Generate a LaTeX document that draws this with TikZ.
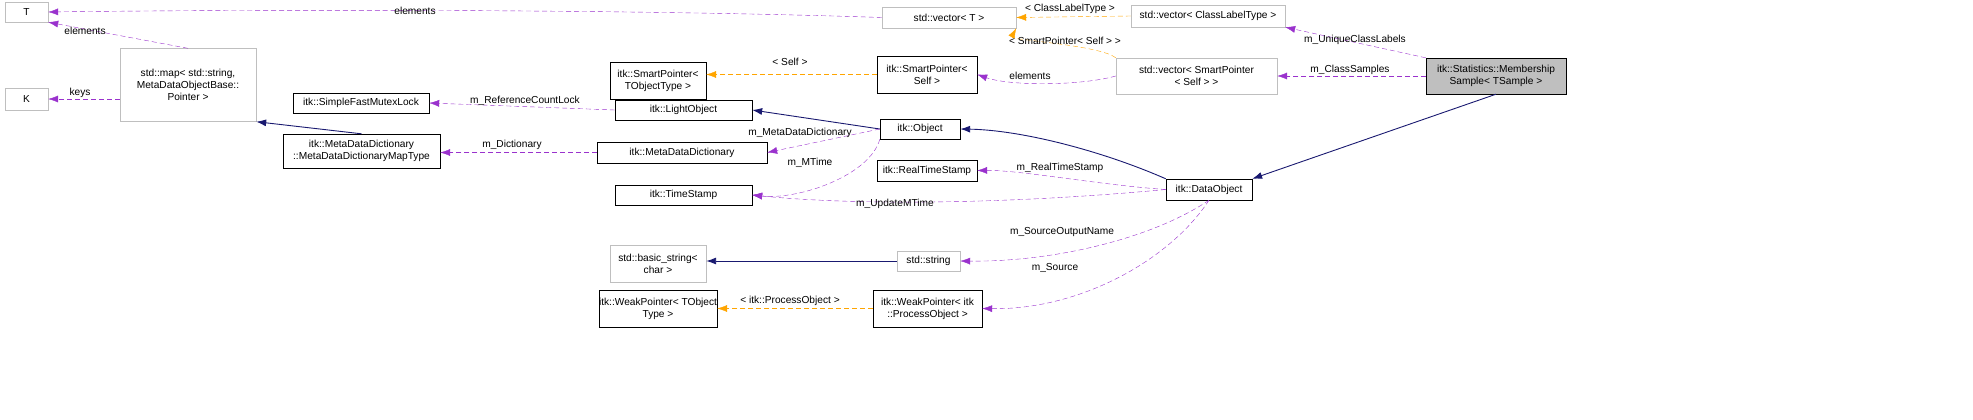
\documentclass[tikz,border=0pt]{standalone}
\usepackage{fontspec}
\setmainfont{Liberation Sans}
\usetikzlibrary{arrows.meta}
\definecolor{pu}{HTML}{9A32CD}
\definecolor{nv}{HTML}{191970}
\definecolor{og}{HTML}{FFA500}
\definecolor{gb}{HTML}{BFBFBF}
\tikzset{
 bx/.style={draw=black,fill=white,inner sep=0,align=center,font=\fontsize{10.2}{12}\selectfont},
 gx/.style={bx,draw=gb},
 lbl/.style={font=\fontsize{10.2}{11}\selectfont,inner sep=1pt},
 mem/.style={pu,dashed,dash pattern=on 5pt off 3pt,-{Latex[length=10pt,width=7pt]}},
 tpl/.style={og,dashed,dash pattern=on 5pt off 3pt,-{Latex[length=10pt,width=7pt]}},
 inh/.style={nv,line width=0.9pt,-{Latex[length=10pt,width=7pt]}},
}
\begin{document}
\begin{tikzpicture}[x=1bp,y=-1bp]
\useasboundingbox (0,0) rectangle (1973,419);
\newcommand\bnode[6]{\node[#1,minimum width={(#4)*1bp},minimum height={(#5)*1bp}] (#2) at (#3) {#6};}
\bnode{gx}{T}{26.5,12}{43}{20}{T}
\bnode{gx}{K}{26.5,99}{43}{22}{K}
\bnode{gx}{map}{188,85}{136}{73}{std::map\textless{} std::string,\\MetaDataObjectBase::\\Pointer \textgreater{}}
\bnode{bx}{mutex}{361,103}{136}{20}{itk::SimpleFastMutexLock}
\bnode{bx}{mapt}{361.5,151}{157}{34}{itk::MetaDataDictionary\\::MetaDataDictionaryMapType}
\bnode{bx}{spt}{658,80.5}{96}{37}{itk::SmartPointer\textless{}\\TObjectType \textgreater{}}
\bnode{bx}{light}{683.5,110}{137}{20}{itk::LightObject}
\bnode{bx}{mdd}{682,152.5}{170}{21}{itk::MetaDataDictionary}
\bnode{bx}{ts}{683.5,195}{137}{20}{itk::TimeStamp}
\bnode{gx}{vect}{949,17.5}{134}{21}{std::vector\textless{} T \textgreater{}}
\bnode{gx}{vecc}{1208,16}{154}{22}{std::vector\textless{} ClassLabelType \textgreater{}}
\bnode{bx}{sps}{927,74.5}{100}{37}{itk::SmartPointer\textless{}\\Self \textgreater{}}
\bnode{gx}{vecs}{1196.5,76}{161}{36}{std::vector\textless{} SmartPointer\\\textless{} Self \textgreater{} \textgreater{}}
\node[bx,fill=black!25,minimum width=140bp,minimum height=36bp] (ms) at (1496,76) {itk::Statistics::Membership\\Sample\textless{} TSample \textgreater{}};
\bnode{bx}{obj}{920,129}{80}{20}{itk::Object}
\bnode{bx}{rts}{927,170.5}{100}{21}{itk::RealTimeStamp}
\bnode{bx}{dobj}{1209,189.5}{86}{21}{itk::DataObject}
\bnode{gx}{bstr}{658,263.5}{96}{37}{std::basic\_string\textless{}\\char \textgreater{}}
\bnode{gx}{str}{928.5,261}{63}{20}{std::string}
\bnode{bx}{wpt}{658,308.5}{96}{37}{itk::WeakPointer\textless{} TObject\\Type \textgreater{}}
\bnode{bx}{wpi}{927.5,308.5}{109}{37}{itk::WeakPointer\textless{} itk\\::ProcessObject \textgreater{}}

\draw[mem] (vect.west) .. controls (600,8) and (200,10) .. (T.east);
\node[lbl] at (415,11) {elements};
\draw[mem] (map.north) -- (T.south east);
\node[lbl] at (85,31) {elements};
\draw[mem] (map.west|-K.east) -- (K.east);
\node[lbl] at (80,93) {keys};
\draw[inh] (mapt.north) -- (map.south east);
\draw[mem] (light.west) -- (mutex.east);
\node[lbl] at (525,101) {m\_ReferenceCountLock};
\draw[inh] (obj.west) -- (light.east);
\draw[mem] (obj.west) -- (mdd.east);
\node[lbl] at (800,133) {m\_MetaDataDictionary};
\draw[mem] (mdd.west) -- (mapt.east|-mdd.west);
\node[lbl] at (512,145) {m\_Dictionary};
\draw[mem] (obj.south west) .. controls (870,175) and (800,200) .. (ts.east);
\node[lbl] at (810,163) {m\_MTime};
\draw[mem] (dobj.west) .. controls (1000,205) and (850,205) .. (ts.east);
\node[lbl] at (895,204) {m\_UpdateMTime};
\draw[mem] (dobj.west) .. controls (1100,185) and (1020,170) .. (rts.east);
\node[lbl] at (1060,168) {m\_RealTimeStamp};
\draw[mem] (dobj.south) .. controls (1150,240) and (1050,262) .. (str.east);
\node[lbl] at (1062,232) {m\_SourceOutputName};
\draw[mem] (dobj.south) .. controls (1170,260) and (1080,310) .. (wpi.east);
\node[lbl] at (1055,268) {m\_Source};
\draw[inh] (dobj.north west) .. controls (1100,150) and (1020,130) .. (obj.east);
\draw[inh] (ms.south) -- (dobj.north east);
\draw[mem] (ms.west) -- (vecs.east);
\node[lbl] at (1350,70) {m\_ClassSamples};
\draw[mem] (ms.north west) -- (vecc.south east);
\node[lbl] at (1355,40) {m\_UniqueClassLabels};
\draw[tpl] (vecc.west) -- (vect.east);
\node[lbl] at (1070,9) {\textless{} ClassLabelType \textgreater{}};
\draw[tpl] (vecs.north west) .. controls (1100,45) and (1010,40) .. (vect.south east);
\node[lbl] at (1065,41) {\textless{} SmartPointer\textless{} Self \textgreater{} \textgreater{}};
\draw[mem] (vecs.west) .. controls (1080,86) and (1010,86) .. (sps.east);
\node[lbl] at (1030,76) {elements};
\draw[tpl] (sps.west) -- (spt.east|-sps.west);
\node[lbl] at (790,62) {\textless{} Self \textgreater{}};
\draw[inh] (str.west) -- (bstr.east|-str.west);
\draw[tpl] (wpi.west) -- (wpt.east);
\node[lbl] at (790,301) {\textless{} itk::ProcessObject \textgreater{}};
\end{tikzpicture}
\end{document}
